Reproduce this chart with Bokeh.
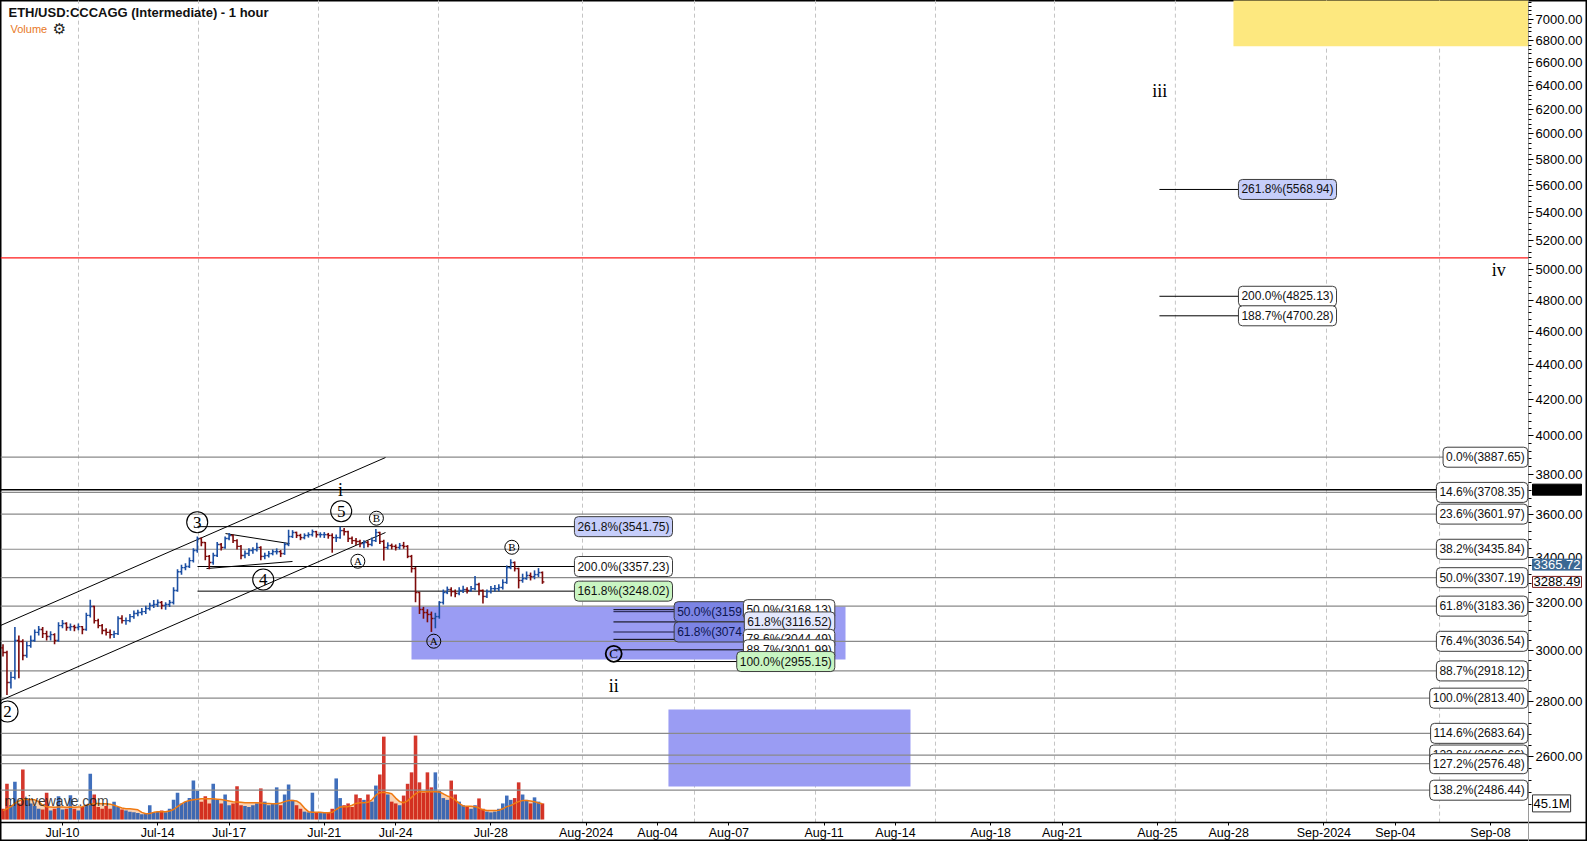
import pandas as pd
from bokeh.plotting import figure
from bokeh.models import Range1d, LinearScale, FixedTicker, PrintfTickFormatter, Label, ColumnDataSource
from bokeh.core.properties import value
from bokeh.embed import file_html
from bokeh.resources import INLINE

# ---------------- data (4-hour bars) ----------------
T0 = pd.Timestamp("2024-07-10 00:00")
bar_start = "2024-07-07 12:00"
first_open = 3010
close = [2991, 2873, 2893, 3040, 3036, 2979, 3019, 3040, 3073, 3085,
         3068, 3056, 3064, 3040, 3101, 3110, 3093, 3097, 3093, 3097,
         3085, 3144, 3182, 3122, 3101, 3081, 3073, 3064, 3068, 3131,
         3122, 3122, 3139, 3152, 3156, 3160, 3173, 3186, 3190, 3199,
         3186, 3190, 3199, 3251, 3334, 3352, 3357, 3384, 3430, 3486,
         3467, 3403, 3375, 3407, 3458, 3444, 3486, 3500, 3476, 3449,
         3407, 3416, 3430, 3434, 3444, 3403, 3407, 3416, 3425, 3425,
         3416, 3458, 3495, 3514, 3500, 3490, 3500, 3504, 3518, 3504,
         3504, 3504, 3500, 3490, 3490, 3523, 3518, 3486, 3476, 3472,
         3462, 3467, 3458, 3476, 3514, 3472, 3444, 3453, 3449, 3444,
         3453, 3449, 3403, 3348, 3242, 3169, 3156, 3148, 3131, 3139,
         3199, 3242, 3255, 3246, 3238, 3251, 3255, 3251, 3259, 3277,
         3251, 3225, 3246, 3259, 3259, 3264, 3286, 3352, 3375, 3348,
         3295, 3303, 3317, 3312, 3321, 3330, 3288.49]
high = [3025, 2998, 2915, 3095, 3060, 3045, 3035, 3060, 3085, 3100,
        3095, 3080, 3078, 3070, 3115, 3125, 3115, 3110, 3105, 3110,
        3100, 3155, 3211, 3185, 3130, 3108, 3090, 3085, 3080, 3140,
        3145, 3135, 3150, 3165, 3168, 3175, 3185, 3198, 3210, 3212,
        3205, 3200, 3210, 3265, 3345, 3365, 3372, 3398, 3440, 3495,
        3490, 3470, 3410, 3420, 3470, 3465, 3495, 3512, 3505, 3482,
        3455, 3430, 3440, 3445, 3466, 3450, 3420, 3428, 3435, 3440,
        3432, 3468, 3527, 3525, 3518, 3508, 3510, 3515, 3528, 3522,
        3515, 3516, 3512, 3510, 3505, 3541, 3535, 3522, 3495, 3488,
        3480, 3478, 3475, 3490, 3530, 3518, 3480, 3468, 3462, 3458,
        3465, 3470, 3455, 3410, 3355, 3245, 3180, 3170, 3160, 3155,
        3205, 3255, 3268, 3265, 3255, 3265, 3272, 3265, 3270, 3315,
        3285, 3255, 3255, 3270, 3275, 3278, 3300, 3362, 3390, 3380,
        3352, 3325, 3335, 3330, 3340, 3350, 3335]
low = [2975, 2825, 2850, 2885, 2890, 2960, 2970, 3010, 3035, 3060,
       3050, 3040, 3040, 3025, 3035, 3090, 3080, 3080, 3078, 3082,
       3065, 3080, 3135, 3110, 3090, 3065, 3060, 3048, 3050, 3062,
       3110, 3105, 3115, 3130, 3140, 3145, 3150, 3165, 3175, 3180,
       3170, 3168, 3180, 3190, 3245, 3320, 3340, 3350, 3375, 3420,
       3450, 3385, 3345, 3365, 3400, 3430, 3438, 3478, 3465, 3435,
       3390, 3395, 3405, 3415, 3425, 3385, 3390, 3398, 3408, 3412,
       3400, 3410, 3450, 3488, 3488, 3478, 3482, 3490, 3495, 3490,
       3490, 3488, 3485, 3420, 3470, 3485, 3500, 3470, 3460, 3455,
       3445, 3440, 3445, 3450, 3470, 3460, 3384, 3435, 3435, 3430,
       3435, 3438, 3395, 3330, 3200, 3150, 3130, 3115, 3075, 3090,
       3130, 3190, 3235, 3225, 3222, 3230, 3240, 3238, 3245, 3252,
       3230, 3195, 3218, 3238, 3245, 3248, 3255, 3280, 3345, 3335,
       3260, 3285, 3298, 3295, 3300, 3310, 3280]
volume_m = [30, 100, 40, 106, 45, 140, 55, 45, 38, 30,
            28, 75, 25, 30, 65, 28, 30, 68, 30, 25,
            35, 40, 128, 70, 35, 30, 38, 30, 50, 35,
            28, 25, 22, 20, 18, 15, 18, 40, 20, 22,
            25, 20, 30, 55, 75, 45, 50, 60, 109, 80,
            50, 65, 45, 100, 55, 45, 70, 40, 45, 93,
            40, 38, 35, 40, 45, 87, 50, 40, 45, 90,
            40, 70, 98, 55, 40, 30, 22, 20, 75, 20,
            18, 20, 18, 30, 115, 60, 40, 45, 35, 70,
            60, 55, 70, 50, 95, 126, 232, 70, 50, 45,
            40, 67, 100, 132, 235, 104, 75, 132, 90, 132,
            80, 60, 55, 109, 70, 50, 40, 35, 30, 40,
            59, 30, 22, 20, 22, 30, 45, 67, 55, 60,
            104, 70, 55, 45, 62, 50, 45.1]
volume_ma_m = [25, 30, 36, 45, 52, 56, 56, 56, 55, 50,
               40, 36, 35, 34, 35, 35, 34, 35, 34, 35,
               36, 40, 43, 45, 45, 44, 44, 43, 40, 36,
               32, 30, 30, 29, 27, 20, 16, 17, 20, 22,
               22, 22, 24, 28, 36, 44, 50, 53, 55, 57,
               58, 58, 58, 58, 57, 56, 54, 52, 50, 49,
               48, 47, 47, 47, 47, 46, 45, 45, 44, 44,
               46, 50, 53, 53, 52, 45, 32, 22, 20, 20,
               20, 19, 19, 20, 28, 35, 36, 36, 40, 45,
               47, 47, 48, 55, 68, 75, 76, 75, 72, 60,
               50, 47, 52, 62, 72, 78, 78, 78, 78, 78,
               77, 72, 66, 62, 55, 45, 38, 37, 37, 36,
               32, 27, 25, 25, 25, 26, 30, 36, 39, 45,
               50, 53, 53, 52, 50, 46, 44]

# axis ticks (days from Jul-10)
x_tick_days = [0, 4, 7, 11, 14, 18, 22, 25, 28, 32, 35, 39, 42, 46, 49, 53, 56, 60]
x_tick_labels = ["Jul-10", "Jul-14", "Jul-17", "Jul-21", "Jul-24", "Jul-28", "Aug-2024", "Aug-04",
                 "Aug-07", "Aug-11", "Aug-14", "Aug-18", "Aug-21", "Aug-25", "Aug-28", "Sep-2024",
                 "Sep-04", "Sep-08"]
grid_days = [0.672, 5.714, 10.756, 15.798, 21.849, 26.555, 31.64, 36.68, 41.68, 46.76, 53.11, 57.86]
y_ticks = list(range(2600, 7001, 200))

# fibonacci levels at the right edge
right_levels = [("0.0%", 3887.65), ("14.6%", 3708.35), ("23.6%", 3601.97), ("38.2%", 3435.84),
                ("50.0%", 3307.19), ("61.8%", 3183.36), ("76.4%", 3036.54), ("88.7%", 2918.12),
                ("100.0%", 2813.40), ("114.6%", 2683.64), ("123.6%", 2606.66), ("127.2%", 2576.48),
                ("138.2%", 2486.44)]
group1 = [("261.8%", 3541.75, "#c6cefa"), ("200.0%", 3357.23, "#ffffff"), ("161.8%", 3248.02, "#c9f5c2")]
group2_blue = [("50.0%", 3159.71), ("61.8%", 3074.62)]
group2 = [("50.0%", 3168.13, "#ffffff"), ("61.8%", 3116.52, "#e4e8fd"), ("78.6%", 3044.49, "#ffffff"),
          ("88.7%", 3001.99, "#ffffff"), ("100.0%", 2955.15, "#c9f5c2")]
group3 = [("261.8%", 5568.94, "#c6cefa"), ("200.0%", 4825.13, "#ffffff"), ("188.7%", 4700.28, "#ffffff")]

# wave labels: (day, price, text)
big_circled = [(-2.311, 2763.4, "2"), (5.66, 3563, "3"), (8.433, 3299, "4"), (11.71, 3616, "5")]
small_circled = [(13.19, 3582, "B"), (12.41, 3381, "A"), (15.6, 3037, "A"), (18.88, 3445, "B")]
c_label = (23.16, 2986, "C")
roman = [(11.68, 3718, "i"), (23.16, 2861, "ii"), (46.1, 6360, "iii"), (60.35, 4995, "iv")]

# price tags on the price axis
tags = [(3722.0, "3722.31", "black", "black", "black", "default"),
        (3365.72, "3365.72", "#3b6893", "white", "#3b6893", "default"),
        (3288.49, "3288.49", "white", "black", "#7a2020", "default"),
        (45.1, "45.1M", "white", "black", "#333333", "vol")]

# ---------------- figure ----------------
X0, X1 = -2.605, 64.076          # whole canvas
X_AX = 61.597                    # price axis position
Y_AX = 2380.5                    # time axis position
p = figure(width=1587, height=841, x_range=Range1d(X0, X1), y_range=Range1d(2321, 7176.7),
           y_axis_type="log", y_axis_location="right", output_backend="svg",
           toolbar_location=None, min_border_left=0, min_border_top=0,
           min_border_right=0, min_border_bottom=0)
p.extra_y_ranges = {"vol": Range1d(-61.6, 2293.2)}
p.extra_y_scales = {"vol": LinearScale()}
p.xgrid.visible = False
p.ygrid.visible = False
p.outline_line_color = "black"
p.outline_line_width = 2
p.background_fill_color = "white"
p.border_fill_color = "white"

p.yaxis.fixed_location = X_AX
p.yaxis.ticker = FixedTicker(ticks=y_ticks, minor_ticks=list(range(2440, 7201, 40)))
p.yaxis.formatter = PrintfTickFormatter(format="%.2f")
p.yaxis.major_label_text_font = "Liberation Sans"
p.yaxis.major_label_text_font_size = "13px"
p.yaxis.major_label_text_color = "black"
p.yaxis.major_tick_out = 5
p.yaxis.major_tick_in = 0
p.yaxis.minor_tick_out = 3
p.yaxis.minor_tick_in = 0
p.yaxis.major_label_standoff = 2
p.yaxis.axis_line_color = "#9a9a9a"
p.yaxis.major_tick_line_color = "black"
p.yaxis.minor_tick_line_color = "black"

p.xaxis.fixed_location = Y_AX
p.xaxis.ticker = FixedTicker(ticks=x_tick_days)
p.xaxis.major_label_overrides = {d: t for d, t in zip(x_tick_days, x_tick_labels)}
p.xaxis.major_label_text_font = "Liberation Sans"
p.xaxis.major_label_text_font_size = "12.5px"
p.xaxis.major_label_text_color = "black"
p.xaxis.major_tick_out = 3
p.xaxis.major_tick_in = 0
p.xaxis.minor_tick_line_color = None
p.xaxis.major_label_standoff = 0
p.xaxis.axis_line_color = "black"
p.xaxis.axis_line_width = 1.5

# dashed vertical grid
p.segment(x0=grid_days, x1=grid_days, y0=[Y_AX] * len(grid_days), y1=[7400] * len(grid_days),
          line_color="#c4c4c4", line_dash="4 3", line_width=1)

# zones
p.quad(left=[49.2], right=[X_AX], top=[7400], bottom=[6749], fill_color="#fde87f", line_color=None)
p.quad(left=[14.664, 25.46], right=[32.9, 35.63], top=[3181.7, 2770.8], bottom=[2963.2, 2498.7],
       fill_color="#9a9cf3", line_color=None)

# volume
times = pd.date_range(bar_start, periods=len(close), freq="4h")
xd = [(t - T0) / pd.Timedelta(days=1) for t in times]
opens = [first_open] + close[:-1]
up = [c >= o for c, o in zip(close, opens)]
p.varea(x=xd, y1=[0] * len(xd), y2=volume_ma_m, fill_color="#f9d2b2", y_range_name="vol")
vsrc = ColumnDataSource(dict(x=xd, top=volume_m,
                             color=["#1f56b0" if u else "#cc1406" for u in up]))
p.vbar(x="x", top="top", bottom=0, width=3.6 / 24, color="color", fill_alpha=0.85, line_alpha=0,
       source=vsrc, y_range_name="vol")
p.line(xd, volume_ma_m, line_color="#f07a12", line_width=1.5, y_range_name="vol")

# horizontal level lines
n = len(right_levels)
p.segment(x0=[X0] * n, x1=[X_AX] * n, y0=[v for _, v in right_levels], y1=[v for _, v in right_levels],
          line_color="#8a8a8a", line_width=1.2)
p.segment(x0=[X0], x1=[X_AX], y0=[5080], y1=[5080], line_color="#ff1a1a", line_width=1.2)
p.segment(x0=[X0], x1=[X_AX], y0=[3722], y1=[3722], line_color="black", line_width=1.5)

g1_start, g1_end = 5.672, 21.8
p.segment(x0=[g1_start] * 3, x1=[g1_end] * 3, y0=[v for _, v, _ in group1], y1=[v for _, v, _ in group1],
          line_color="black", line_width=1)
g2_start = 23.15
p.segment(x0=[g2_start] * 2, x1=[26.0] * 2, y0=[v for _, v in group2_blue], y1=[v for _, v in group2_blue],
          line_color="#1a1a40", line_width=1)
p.segment(x0=[g2_start] * 5, x1=[29.0] * 5, y0=[v for _, v, _ in group2], y1=[v for _, v, _ in group2],
          line_color="black", line_width=1)
g3_start = 46.09
p.segment(x0=[g3_start] * 3, x1=[50.0] * 3, y0=[v for _, v, _ in group3], y1=[v for _, v, _ in group3],
          line_color="black", line_width=1)

# channel and triangle
p.segment(x0=[-2.605, -2.605], x1=[13.571, 13.571], y0=[3101.6, 2804.5], y1=[3886.0, 3514.0],
          line_color="black", line_width=1)
p.segment(x0=[6.849, 6.05], x1=[9.538, 9.664], y0=[3509, 3348], y1=[3462, 3380],
          line_color="black", line_width=1)

# price bars (OHLC)
h = 1.9 / 24
bcol = ["#1c4fa3" if u else "#7d0a0a" for u in up]
src = ColumnDataSource(dict(x=xd, xl=[x - h for x in xd], xr=[x + h for x in xd], o=opens, c=close,
                            hi=high, lo=low, col=bcol))
p.segment(x0="x", x1="x", y0="lo", y1="hi", line_color="col", line_width=1.6, source=src)
p.segment(x0="xl", x1="x", y0="o", y1="o", line_color="col", line_width=1.4, source=src)
p.segment(x0="x", x1="xr", y0="c", y1="c", line_color="col", line_width=1.4, source=src)

# wave labels
p.scatter(x=[a for a, _, _ in big_circled], y=[b for _, b, _ in big_circled], marker="circle", size=21,
          fill_color=None, line_color="black", line_width=1.1)
p.text(x=[a for a, _, _ in big_circled], y=[b for _, b, _ in big_circled], text=[t for _, _, t in big_circled],
       text_font=value("Liberation Serif"), text_font_size="17px", text_align="center",
       text_baseline="middle", text_color="black")
p.scatter(x=[a for a, _, _ in small_circled], y=[b for _, b, _ in small_circled], marker="circle", size=14,
          fill_color=None, line_color="black", line_width=1)
p.text(x=[a for a, _, _ in small_circled], y=[b for _, b, _ in small_circled],
       text=[t for _, _, t in small_circled], text_font=value("Liberation Serif"), text_font_size="11px",
       text_align="center", text_baseline="middle", text_color="black")
p.scatter(x=[c_label[0]], y=[c_label[1]], marker="circle", size=16, fill_color=None, line_color="black",
          line_width=1.8)
p.text(x=[c_label[0]], y=[c_label[1]], text=[c_label[2]], text_font=value("Liberation Serif"),
       text_font_size="13px", text_align="center", text_baseline="middle", text_color="black")
p.text(x=[a for a, _, _ in roman], y=[b for _, b, _ in roman], text=[t for _, _, t in roman],
       text_font=value("Liberation Serif"), text_font_size="18px", text_align="center",
       text_baseline="middle", text_color="black")


def box(x, y, text, bg="#ffffff", align="left", color="#111111", border="#3c3c3c"):
    p.add_layout(Label(x=x, y=y, text=text, text_align=align, text_baseline="middle",
                       text_font="Liberation Sans", text_font_size="12px", text_color=color,
                       background_fill_color=bg, border_line_color=border, border_line_width=1,
                       padding=3, border_radius=4))


for name, v, bg in group1:
    box(21.51, v, f"{name}({v:.2f})", bg)
for name, v in group2_blue:
    box(29.54, v, f"{name}({v:.2f})", "#7c84e4", "right", "#0d1650")
for name, v, bg in group2:
    box(32.45, v, f"{name}({v:.2f})", bg, "right")
for name, v, bg in group3:
    box(49.41, v, f"{name}({v:.2f})", bg)
for name, v in right_levels:
    box(X_AX - 0.03, v, f"{name}({v:.2f})", "#ffffff", "right")

for yv, txt, bg, col, border, rng in tags:
    p.add_layout(Label(x=X_AX, y=yv, text=txt, text_align="left", text_baseline="middle", x_offset=4,
                       text_font="Liberation Sans", text_font_size="13px", text_color=col,
                       background_fill_color=bg, border_line_color=border, padding=1,
                       y_range_name=rng))

# header texts
p.add_layout(Label(x=-2.269, y=7062, text="ETH/USD:CCCAGG (Intermediate) - 1 hour", text_align="left",
                   text_baseline="middle", text_font="Liberation Sans", text_font_size="13px",
                   text_font_style="bold", text_color="#111111"))
p.add_layout(Label(x=-2.185, y=6903, text="Volume", text_align="left", text_baseline="middle",
                   text_font="Liberation Sans", text_font_size="11px", text_color="#e8781e"))
p.add_layout(Label(x=-0.13, y=6903, text="⚙", text_align="center", text_baseline="middle",
                   text_font="DejaVu Sans", text_font_size="15px", text_color="#222222"))
p.add_layout(Label(x=-2.437, y=2452, text="motivewave.com", text_align="left", text_baseline="middle",
                   text_font="Liberation Sans", text_font_size="14px", text_color="#1a1a1a",
                   text_alpha=0.85))

open("out.html", "w").write(file_html(p, INLINE))
